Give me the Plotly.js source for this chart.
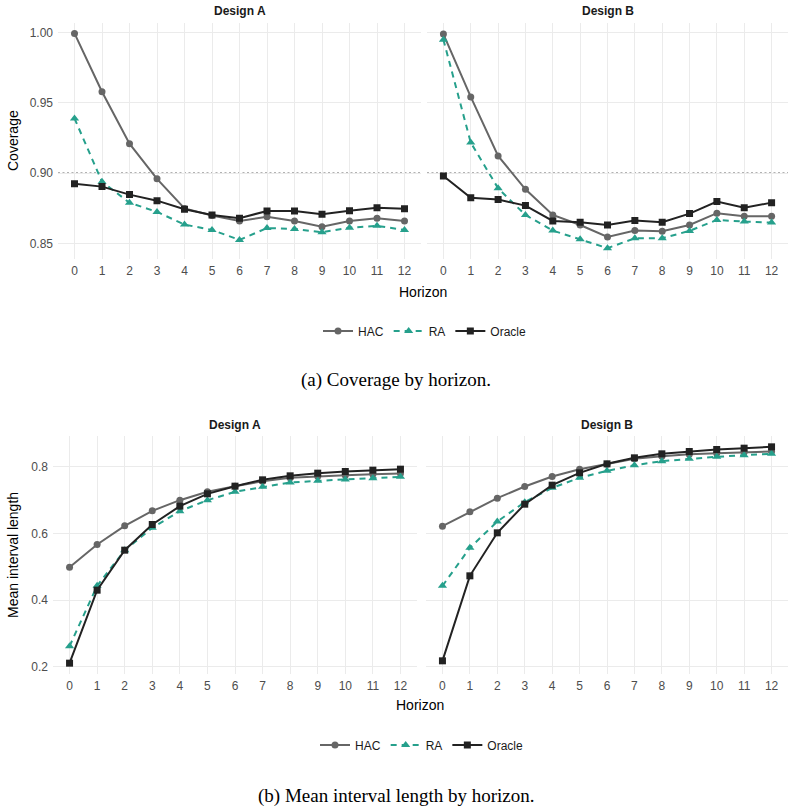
<!DOCTYPE html>
<html>
<head>
<meta charset="utf-8">
<script src="https://cdn.plot.ly/plotly-3.0.1.min.js"></script>
<style>
html,body{margin:0;padding:0;background:#fff;}
#chart{width:794px;height:810px;}
</style>
</head>
<body>
<div id="chart"></div>
<script>
// ---- data ----
const horizon = [0,1,2,3,4,5,6,7,8,9,10,11,12];
const methods = ["HAC", "RA", "Oracle"];

const covA_HAC    = [0.9995,0.958,0.921,0.896,0.875,0.870,0.866,0.869,0.866,0.862,0.866,0.868,0.866];
const covA_RA     = [0.939,0.894,0.879,0.8725,0.8635,0.8597,0.8526,0.861,0.8604,0.858,0.8613,0.8626,0.8597];
const covA_Oracle = [0.8926,0.8905,0.8848,0.8805,0.8744,0.8703,0.868,0.8732,0.8732,0.8708,0.8734,0.8755,0.8748];

const covB_HAC    = [0.999,0.9543,0.9123,0.8886,0.8703,0.8632,0.8547,0.8592,0.8588,0.8632,0.8716,0.8695,0.8695];
const covB_RA     = [0.995,0.9218,0.8893,0.8703,0.8592,0.853,0.8467,0.8538,0.8538,0.859,0.8668,0.8656,0.8649];
const covB_Oracle = [0.8981,0.8825,0.8813,0.877,0.8661,0.8652,0.8632,0.8663,0.8652,0.8713,0.8799,0.8755,0.8791];

const lenA_HAC    = [0.499,0.567,0.623,0.668,0.700,0.725,0.742,0.757,0.767,0.772,0.775,0.778,0.780];
const lenA_RA     = [0.262,0.443,0.550,0.617,0.667,0.700,0.725,0.740,0.753,0.758,0.762,0.766,0.770];
const lenA_Oracle = [0.211,0.430,0.550,0.627,0.682,0.719,0.742,0.761,0.773,0.781,0.786,0.790,0.793];

const lenB_HAC    = [0.622,0.665,0.706,0.741,0.771,0.793,0.808,0.824,0.832,0.838,0.841,0.844,0.846];
const lenB_RA     = [0.443,0.557,0.636,0.694,0.737,0.767,0.788,0.805,0.817,0.824,0.830,0.835,0.839];
const lenB_Oracle = [0.218,0.473,0.602,0.688,0.745,0.782,0.809,0.827,0.839,0.846,0.852,0.856,0.860];

const nominal = 0.90;
const xTicks = horizon;
const covTicks = [0.85,0.90,0.95,1.00];
const covTickText = ["0.85","0.90","0.95","1.00"];
const lenTicks = [0.2,0.4,0.6,0.8];
const lenTickText = ["0.2","0.4","0.6","0.8"];

// ---- styles ----
const styles = {
  HAC:    {color:"#666666", symbol:"circle",       size:7, dash:"solid"},
  RA:     {color:"#26A08C", symbol:"triangle-up",  size:8, dash:"6px,5px"},
  Oracle: {color:"#222222", symbol:"square",       size:7, dash:"solid"}
};

function mk(name, y, xa, ya, legend, showlegend){
  const s = styles[name];
  return {
    x: horizon, y: y, type:"scatter", mode:"lines+markers", name:name,
    xaxis:xa, yaxis:ya, legend:legend, showlegend:showlegend, legendgroup:legend+name,
    line:{color:s.color, width:2, dash:s.dash},
    marker:{color:s.color, symbol:s.symbol, size:s.size, line:{width:0}},
    hoverinfo:"skip"
  };
}

const traces = [
  mk("HAC", covA_HAC, "x", "y", "legend", true),
  mk("RA", covA_RA, "x", "y", "legend", true),
  mk("Oracle", covA_Oracle, "x", "y", "legend", true),
  mk("HAC", covB_HAC, "x2", "y2", "legend", false),
  mk("RA", covB_RA, "x2", "y2", "legend", false),
  mk("Oracle", covB_Oracle, "x2", "y2", "legend", false),
  mk("HAC", lenA_HAC, "x3", "y3", "legend2", true),
  mk("RA", lenA_RA, "x3", "y3", "legend2", true),
  mk("Oracle", lenA_Oracle, "x3", "y3", "legend2", true),
  mk("HAC", lenB_HAC, "x4", "y4", "legend2", false),
  mk("RA", lenB_RA, "x4", "y4", "legend2", false),
  mk("Oracle", lenB_Oracle, "x4", "y4", "legend2", false)
];

const W = 794, H = 810;
const px = v => v / W;
const py = v => 1 - v / H;

const gridC = "#EBEBEB";
const tickFont = {family:"Liberation Sans, Arial, sans-serif", size:12, color:"#4D4D4D"};

function xax(d0, d1, anchor){
  return {domain:[px(d0), px(d1)], anchor:anchor, range:[-0.6,12.6],
    tickvals:xTicks, ticktext:xTicks.map(String), showgrid:true, gridcolor:gridC, gridwidth:1,
    zeroline:false, showline:false, ticks:"", tickfont:tickFont, ticklabelstandoff:3, fixedrange:true};
}
function yax(d0, d1, range, tv, tt, anchor, showlabels){
  return {domain:[py(d1), py(d0)], anchor:anchor, range:range,
    tickvals:tv, ticktext:tt, showgrid:true, gridcolor:gridC, gridwidth:1,
    zeroline:false, showline:false, ticks:"", tickfont:tickFont, showticklabels:showlabels,
    ticklabelstandoff:4, fixedrange:true};
}

const covRange = [0.8390, 1.0071];
const lenRange = [0.1785, 0.8925];

const layout = {
  width:W, height:H, margin:{l:0,r:0,t:0,b:0},
  paper_bgcolor:"#ffffff", plot_bgcolor:"#ffffff",
  font:{family:"Liberation Sans, Arial, sans-serif", color:"#000"},
  xaxis:  xax(58, 421, "y"),
  xaxis2: xax(427, 788, "y2"),
  xaxis3: xax(53, 417, "y3"),
  xaxis4: xax(426, 788, "y4"),
  yaxis:  yax(22.7, 259, covRange, covTicks, covTickText, "x", true),
  yaxis2: yax(22.7, 259, covRange, covTicks, covTickText, "x2", false),
  yaxis3: yax(436, 674, lenRange, lenTicks, lenTickText, "x3", true),
  yaxis4: yax(436, 674, lenRange, lenTicks, lenTickText, "x4", false),
  shapes: [
    {type:"line", xref:"x domain", yref:"y", x0:0, x1:1, y0:nominal, y1:nominal,
     line:{color:"#666666", width:1.3, dash:"2px,2.5px"}, layer:"below"},
    {type:"line", xref:"x2 domain", yref:"y2", x0:0, x1:1, y0:nominal, y1:nominal,
     line:{color:"#666666", width:1.3, dash:"2px,2.5px"}, layer:"below"}
  ],
  showlegend:true,
  legend:{orientation:"h", x:px(425), xanchor:"center", y:py(331), yanchor:"middle",
    font:{size:12, color:"#1A1A1A"}, itemwidth:30, tracegroupgap:0, itemclick:false, itemdoubleclick:false,
    bgcolor:"rgba(0,0,0,0)"},
  legend2:{orientation:"h", x:px(422), xanchor:"center", y:py(745), yanchor:"middle",
    font:{size:12, color:"#1A1A1A"}, itemwidth:30, tracegroupgap:0, itemclick:false, itemdoubleclick:false,
    bgcolor:"rgba(0,0,0,0)"},
  annotations: [
    {text:"<b>Design A</b>", xref:"paper", yref:"paper", x:px(239.5), y:py(11), showarrow:false,
     font:{size:12, color:"#1A1A1A"}, xanchor:"center", yanchor:"middle"},
    {text:"<b>Design B</b>", xref:"paper", yref:"paper", x:px(607.5), y:py(11), showarrow:false,
     font:{size:12, color:"#1A1A1A"}, xanchor:"center", yanchor:"middle"},
    {text:"<b>Design A</b>", xref:"paper", yref:"paper", x:px(235), y:py(425), showarrow:false,
     font:{size:12, color:"#1A1A1A"}, xanchor:"center", yanchor:"middle"},
    {text:"<b>Design B</b>", xref:"paper", yref:"paper", x:px(607), y:py(425), showarrow:false,
     font:{size:12, color:"#1A1A1A"}, xanchor:"center", yanchor:"middle"},
    {text:"Coverage", xref:"paper", yref:"paper", x:px(13), y:py(141), showarrow:false, textangle:-90,
     font:{size:14, color:"#000"}, xanchor:"center", yanchor:"middle"},
    {text:"Mean interval length", xref:"paper", yref:"paper", x:px(13), y:py(555), showarrow:false, textangle:-90,
     font:{size:14, color:"#000"}, xanchor:"center", yanchor:"middle"},
    {text:"Horizon", xref:"paper", yref:"paper", x:px(423), y:py(292), showarrow:false,
     font:{size:14, color:"#000"}, xanchor:"center", yanchor:"middle"},
    {text:"Horizon", xref:"paper", yref:"paper", x:px(420), y:py(705), showarrow:false,
     font:{size:14, color:"#000"}, xanchor:"center", yanchor:"middle"},
    {text:"(a) Coverage by horizon.", xref:"paper", yref:"paper", x:px(396), y:py(380), showarrow:false,
     font:{family:"Liberation Serif, Times New Roman, serif", size:19, color:"#000"}, xanchor:"center", yanchor:"middle"},
    {text:"(b) Mean interval length by horizon.", xref:"paper", yref:"paper", x:px(396), y:py(796), showarrow:false,
     font:{family:"Liberation Serif, Times New Roman, serif", size:19, color:"#000"}, xanchor:"center", yanchor:"middle"}
  ]
};

Plotly.newPlot("chart", traces, layout, {displayModeBar:false, staticPlot:true});
</script>
</body>
</html>
